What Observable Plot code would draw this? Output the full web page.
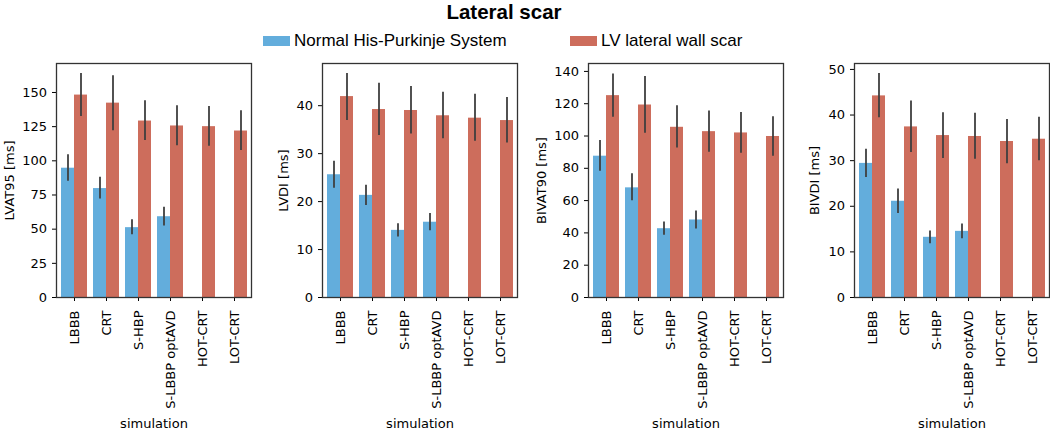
<!DOCTYPE html>
<html>
<head>
<meta charset="utf-8">
<script src="https://cdn.jsdelivr.net/npm/d3@7"></script>
<script src="https://cdn.jsdelivr.net/npm/@observablehq/plot@0.6"></script>
<style>
  html, body { margin: 0; padding: 0; background: #fff; overflow: hidden; }
  #root { position: relative; width: 1050px; height: 429px; overflow: hidden; }
  .title { position: absolute; top: 0px; left: 504px; transform: translateX(-50%);
           font-family: "Liberation Sans", Arial, sans-serif; font-weight: bold; font-size: 20.5px; line-height: normal; white-space: nowrap; }
  .sw { position: absolute; width: 27px; height: 10px; }
  .lt { position: absolute; font-family: "Liberation Sans", Arial, sans-serif; font-size: 17px; line-height: 17px; white-space: nowrap; }
  .panel { position: absolute; top: 55px; }
  .panel svg { max-width: none !important; overflow: visible; display: block; }
</style>
</head>
<body>
<div id="root"></div>
<script>
// ---------- data ----------
const titleText = "Lateral scar";
const seriesNames = ["Normal His-Purkinje System", "LV lateral wall scar"];
const seriesColors = ["#63addc", "#cd6d5c"];
const categories = ["LBBB", "CRT", "S-HBP", "S-LBBP optAVD", "HOT-CRT", "LOT-CRT"];
const xLabel = "simulation";

// LVAT95 [ms]
const lvat95Normal   = [94.6, 79.7, 51.1, 59.1, null, null];
const lvat95NormalLo = [85.1, 72.0, 46.0, 52.3, null, null];
const lvat95NormalHi = [104.5, 88.0, 56.9, 66.1, null, null];
const lvat95Scar     = [148.1, 142.2, 129.1, 125.5, 125.0, 121.8];
const lvat95ScarLo   = [132.5, 122.0, 114.8, 111.1, 110.6, 107.5];
const lvat95ScarHi   = [163.9, 162.2, 143.9, 140.3, 139.8, 136.6];
const lvat95Ticks    = [0, 25, 50, 75, 100, 125, 150];

// LVDI [ms]
const lvdiNormal   = [25.6, 21.3, 14.0, 15.7, null, null];
const lvdiNormalLo = [22.8, 19.2, 12.6, 13.9, null, null];
const lvdiNormalHi = [28.4, 23.4, 15.4, 17.5, null, null];
const lvdiScar     = [41.9, 39.2, 39.0, 37.9, 37.4, 36.9];
const lvdiScarLo   = [36.9, 33.8, 34.1, 33.1, 32.6, 32.2];
const lvdiScarHi   = [46.7, 44.7, 44.0, 42.8, 42.4, 41.7];
const lvdiTicks    = [0, 10, 20, 30, 40];

// BIVAT90 [ms]
const bivat90Normal   = [87.5, 67.9, 42.6, 48.0, null, null];
const bivat90NormalLo = [78.2, 59.9, 38.5, 42.4, null, null];
const bivat90NormalHi = [97.2, 76.6, 46.7, 53.5, null, null];
const bivat90Scar     = [125.0, 119.2, 105.4, 102.7, 101.9, 99.7];
const bivat90ScarLo   = [111.6, 101.7, 92.6, 90.0, 89.4, 87.5];
const bivat90ScarHi   = [138.4, 136.9, 118.8, 115.5, 114.5, 112.0];
const bivat90Ticks    = [0, 20, 40, 60, 80, 100, 120, 140];

// BIVDI [ms]
const bivdiNormal   = [29.4, 21.1, 13.2, 14.5, null, null];
const bivdiNormalLo = [26.3, 18.4, 11.8, 12.9, null, null];
const bivdiNormalHi = [32.5, 23.8, 14.6, 16.1, null, null];
const bivdiScar     = [44.2, 37.4, 35.5, 35.3, 34.2, 34.7];
const bivdiScarLo   = [39.4, 31.8, 30.5, 30.3, 29.3, 30.0];
const bivdiScarHi   = [49.1, 43.1, 40.5, 40.4, 39.0, 39.5];
const bivdiTicks    = [0, 10, 20, 30, 40, 50];

const panels = [
  {label: "LVAT95 [ms]", ymax: 171.2, ticks: lvat95Ticks, labelOffset: 52,
   n: [lvat95Normal, lvat95NormalLo, lvat95NormalHi], s: [lvat95Scar, lvat95ScarLo, lvat95ScarHi]},
  {label: "LVDI [ms]", ymax: 48.8, ticks: lvdiTicks, labelOffset: 44,
   n: [lvdiNormal, lvdiNormalLo, lvdiNormalHi], s: [lvdiScar, lvdiScarLo, lvdiScarHi]},
  {label: "BIVAT90 [ms]", ymax: 144.9, ticks: bivat90Ticks, labelOffset: 52,
   n: [bivat90Normal, bivat90NormalLo, bivat90NormalHi], s: [bivat90Scar, bivat90ScarLo, bivat90ScarHi]},
  {label: "BIVDI [ms]", ymax: 51.3, ticks: bivdiTicks, labelOffset: 45,
   n: [bivdiNormal, bivdiNormalLo, bivdiNormalHi], s: [bivdiScar, bivdiScarLo, bivdiScarHi]}
];

// ---------- layout ----------
const root = document.getElementById("root");
const t = document.createElement("div");
t.className = "title"; t.textContent = titleText; root.appendChild(t);

const legendPos = [[263, 294], [570, 601]];
seriesNames.forEach((name, i) => {
  const sw = document.createElement("div");
  sw.className = "sw";
  sw.style.left = legendPos[i][0] + "px"; sw.style.top = "36px";
  sw.style.background = seriesColors[i];
  root.appendChild(sw);
  const lt = document.createElement("div");
  lt.className = "lt";
  lt.style.left = legendPos[i][1] + "px"; lt.style.top = "31.5px";
  lt.textContent = name;
  root.appendChild(lt);
});

const frameW = 195, mL = 56, mR = 2, mT = 8, mB = 132, H = 374;
const step = frameW / (categories.length - 0.2 + 0.2);
const half = 0.4 * step; // half of band width
const rows = (arr) => categories.map((c, i) => ({sim: c, v: arr[0][i], lo: arr[1][i], hi: arr[2][i]})).filter(d => d.v != null);

panels.forEach((p, i) => {
  const normal = rows(p.n), scar = rows(p.s);
  const chart = Plot.plot({
    width: mL + frameW + mR, height: H,
    marginLeft: mL, marginRight: mR, marginTop: mT, marginBottom: mB,
    style: {fontFamily: "'DejaVu Sans', sans-serif", fontSize: "13px", color: "#000", background: "transparent", overflow: "visible"},
    x: {type: "band", domain: categories, paddingInner: 0.2, paddingOuter: 0.1,
        label: xLabel, labelAnchor: "center", labelOffset: 130, tickRotate: -90, tickSize: 4, tickPadding: 9},
    y: {domain: [0, p.ymax], ticks: p.ticks, label: p.label, labelAnchor: "center", labelOffset: p.labelOffset,
        tickSize: 4, tickPadding: 5.5, labelArrow: "none"},
    marks: [
      Plot.barY(normal, {x: "sim", y: "v", fill: seriesColors[0], insetRight: half}),
      Plot.barY(scar, {x: "sim", y: "v", fill: seriesColors[1], insetLeft: half}),
      Plot.ruleX(normal, {x: "sim", y1: "lo", y2: "hi", dx: -half / 2, stroke: "#3f3f3f", strokeWidth: 1.8}),
      Plot.ruleX(scar, {x: "sim", y1: "lo", y2: "hi", dx: half / 2, stroke: "#3f3f3f", strokeWidth: 1.8}),
      Plot.frame({stroke: "#333", strokeWidth: 1.3})
    ]
  });
  const wrap = document.createElement("div");
  wrap.className = "panel";
  wrap.style.left = (266 * i) + "px";
  wrap.appendChild(chart);
  root.appendChild(wrap);
});
</script>
</body>
</html>
